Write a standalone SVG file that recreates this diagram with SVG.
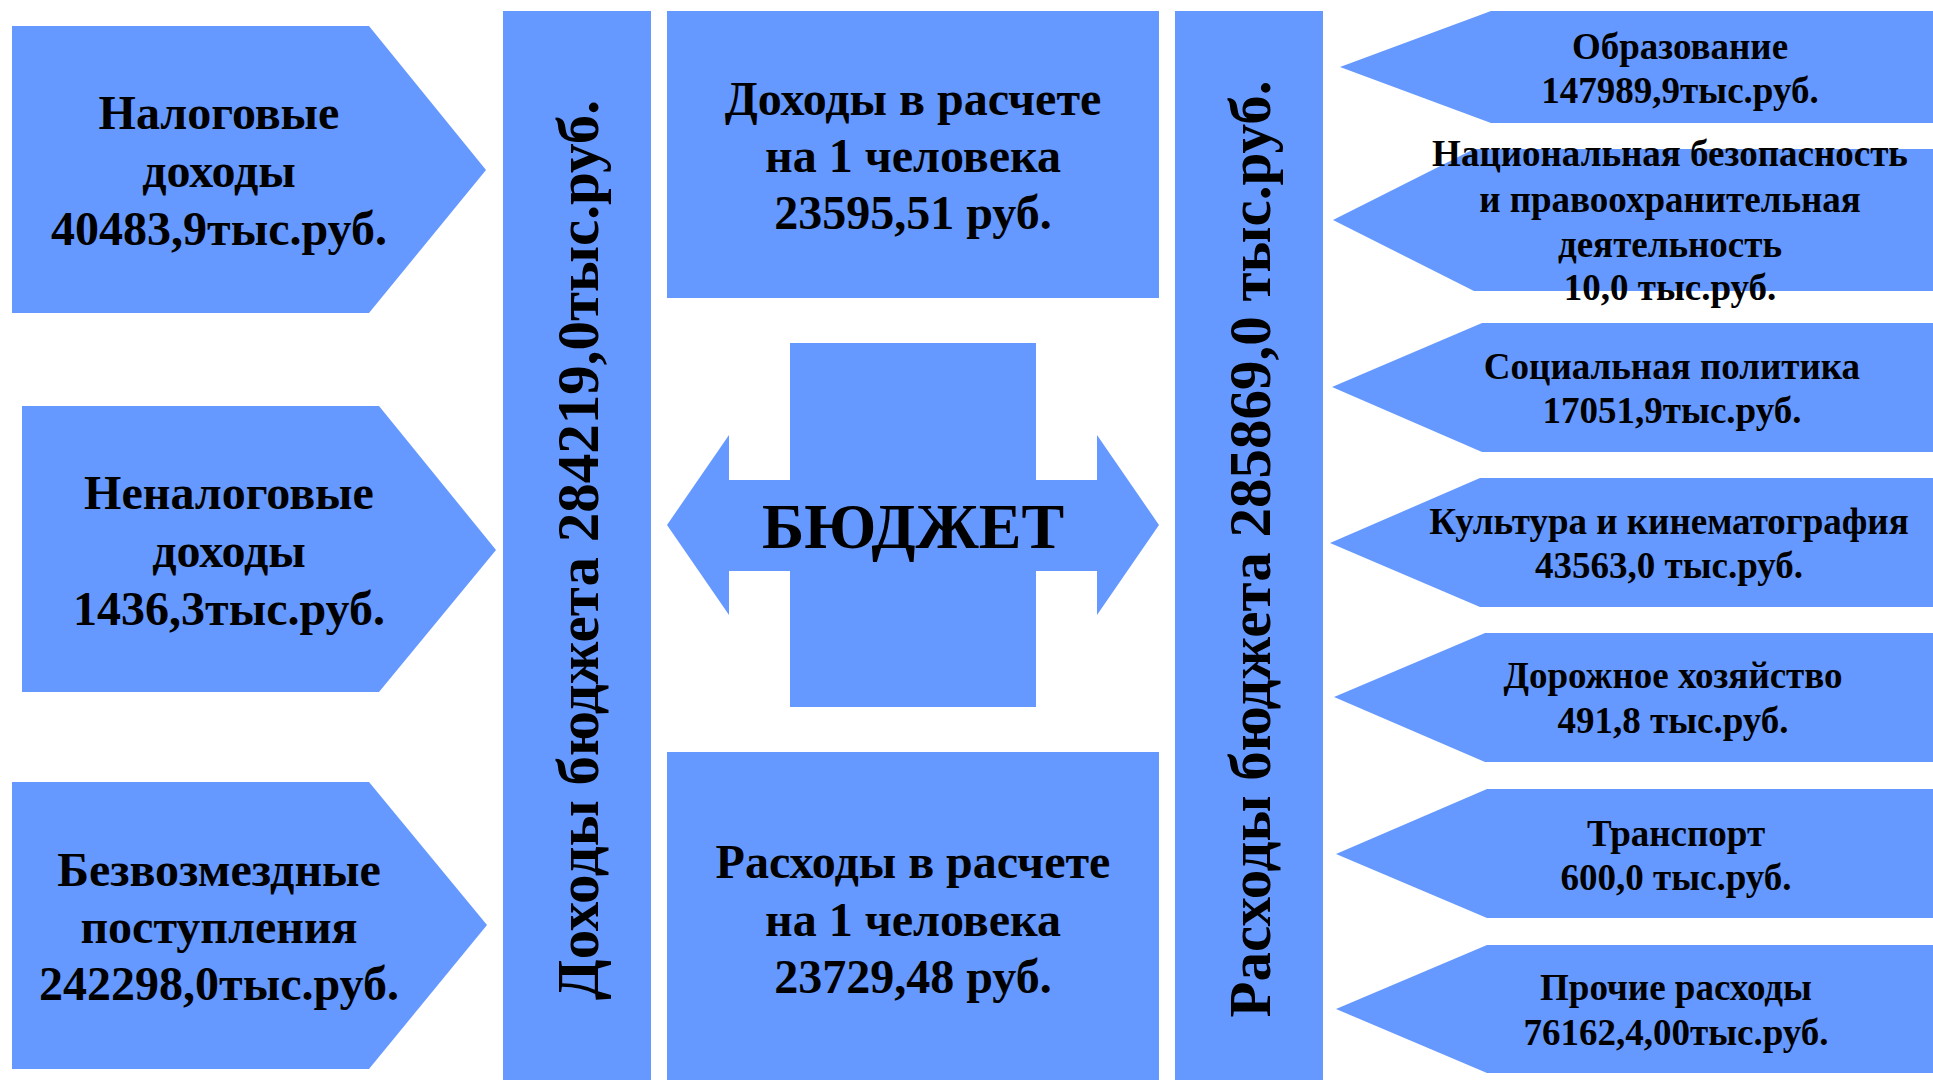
<svg xmlns="http://www.w3.org/2000/svg" width="1933" height="1080" viewBox="0 0 1933 1080">
<style>
.s{fill:#6699FF;}
text{font-family:"Liberation Serif","Times New Roman",serif;font-weight:bold;fill:#000;text-anchor:middle;}
.l{font-size:48px;}
.v{font-size:59px;}
.r{font-size:37px;}
.b{font-size:64px;}
</style>
<rect width="1933" height="1080" fill="#FFFFFF"/>
<g id="connectors"/>
<g id="n-tax">
<polygon class="s" points="12,26 369,26 486,170 369,313 12,313"/>
<text class="l" x="219" y="129">Налоговые</text>
<text class="l" x="219" y="187">доходы</text>
<text class="l" x="219" y="245">40483,9тыс.руб.</text>
</g>
<g id="n-nontax">
<polygon class="s" points="22,406 379,406 496,550 379,692 22,692"/>
<text class="l" x="229" y="509">Неналоговые</text>
<text class="l" x="229" y="567">доходы</text>
<text class="l" x="229" y="625">1436,3тыс.руб.</text>
</g>
<g id="n-free">
<polygon class="s" points="12,782 369,782 487,925 369,1069 12,1069"/>
<text class="l" x="219" y="886">Безвозмездные</text>
<text class="l" x="219" y="943">поступления</text>
<text class="l" x="219" y="1000">242298,0тыс.руб.</text>
</g>
<g id="n-income">
<rect class="s" x="503" y="11" width="148" height="1069"/>
<text class="v" transform="translate(598,550) rotate(-90)">Доходы бюджета 284219,0тыс.руб.</text>
</g>
<g id="n-income-per">
<rect class="s" x="667" y="11" width="492" height="287"/>
<text class="l" x="913" y="115">Доходы в расчете</text>
<text class="l" x="913" y="172">на 1 человека</text>
<text class="l" x="913" y="229">23595,51 руб.</text>
</g>
<g id="n-budget">
<rect class="s" x="790" y="343" width="246" height="364"/>
<polygon class="s" points="667,525 729,435 729,480 1097,480 1097,435 1159,525 1097,615 1097,571 729,571 729,615"/>
<text class="b" x="913" y="548">БЮДЖЕТ</text>
</g>
<g id="n-expense-per">
<rect class="s" x="667" y="752" width="492" height="328"/>
<text class="l" x="913" y="878">Расходы в расчете</text>
<text class="l" x="913" y="936">на 1 человека</text>
<text class="l" x="913" y="993">23729,48 руб.</text>
</g>
<g id="n-expense">
<rect class="s" x="1175" y="11" width="148" height="1069"/>
<text class="v" transform="translate(1270,549) rotate(-90)">Расходы бюджета 285869,0 тыс.руб.</text>
</g>
<g id="n-edu">
<polygon class="s" points="1340,67 1491,11 1940,11 1940,123 1491,123"/>
<text class="r" x="1680" y="59">Образование</text>
<text class="r" x="1680" y="103">147989,9тыс.руб.</text>
</g>
<g id="n-security">
<polygon class="s" points="1333,220 1474,149 1940,149 1940,291 1474,291"/>
<text class="r" x="1670" y="166">Национальная безопасность</text>
<text class="r" x="1670" y="212">и правоохранительная</text>
<text class="r" x="1670" y="257">деятельность</text>
<text class="r" x="1670" y="300">10,0 тыс.руб.</text>
</g>
<g id="n-social">
<polygon class="s" points="1332,387 1482,323 1940,323 1940,452 1482,452"/>
<text class="r" x="1672" y="379">Социальная политика</text>
<text class="r" x="1672" y="423">17051,9тыс.руб.</text>
</g>
<g id="n-culture">
<polygon class="s" points="1330,543 1480,478 1940,478 1940,607 1480,607"/>
<text class="r" x="1669" y="534">Культура и кинематография</text>
<text class="r" x="1669" y="578">43563,0 тыс.руб.</text>
</g>
<g id="n-road">
<polygon class="s" points="1334,697 1485,633 1940,633 1940,762 1485,762"/>
<text class="r" x="1673" y="688">Дорожное хозяйство</text>
<text class="r" x="1673" y="733">491,8 тыс.руб.</text>
</g>
<g id="n-transport">
<polygon class="s" points="1336,854 1487,789 1940,789 1940,918 1487,918"/>
<text class="r" x="1676" y="846">Транспорт</text>
<text class="r" x="1676" y="890">600,0 тыс.руб.</text>
</g>
<g id="n-other">
<polygon class="s" points="1336,1009 1487,945 1940,945 1940,1073 1487,1073"/>
<text class="r" x="1676" y="1000">Прочие расходы</text>
<text class="r" x="1676" y="1045">76162,4,00тыс.руб.</text>
</g>
</svg>
